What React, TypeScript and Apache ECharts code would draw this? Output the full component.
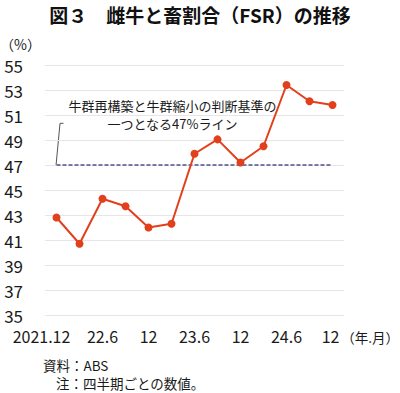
import React, { useEffect, useRef } from "react";
import * as echarts from "echarts";

const categories = ["2021.12", "3", "22.6", "9", "12", "3", "23.6", "9", "12", "3", "24.6", "9", "12"];
const fsrValues = [42.8, 40.7, 44.3, 43.7, 42.0, 42.3, 47.9, 49.05, 47.2, 48.5, 53.4, 52.1, 51.8];
const thresholdValues = [47, 47, 47, 47, 47, 47, 47, 47, 47, 47, 47, 47, 47];
const yTicks = { min: 35, max: 55, interval: 2 };

const titleText = "図３　雌牛と畜割合（FSR）の推移";
const annotationLines = ["牛群再構築と牛群縮小の判断基準の", "一つとなる47%ライン"];
const sourceText = "資料：ABS";
const noteText = "注：四半期ごとの数値。";

// per-label horizontal shift (layout only)
const labelShift = [-15, 0, 0, 0, 0, 0, -2];

const FONT = '"Noto Sans CJK JP", "Noto Sans", sans-serif';

export default function App() {
  const ref = useRef<HTMLDivElement>(null);
  useEffect(() => {
    if (!ref.current) return;
    const chart = echarts.init(ref.current, null, { renderer: "svg" });
    const rich: Record<string, any> = {};
    labelShift.forEach((s, i) => {
      rich["s" + i] = {
        fontSize: 16,
        color: "#1a1a1a",
        fontFamily: FONT,
        padding: [0, -2 * s, 0, 0],
      };
    });
    const textStyle = (size: number) => ({ fontSize: size, fill: "#1a1a1a", fontFamily: FONT, textVerticalAlign: "middle" });
    chart.setOption({
      animation: false,
      backgroundColor: "#ffffff",
      textStyle: { fontFamily: FONT },
      title: {
        text: titleText,
        left: "center",
        top: 0,
        textStyle: { fontSize: 19, fontWeight: "bold", color: "#111", fontFamily: FONT },
      },
      grid: { left: 45, right: 56, top: 65, bottom: 78, containLabel: false },
      xAxis: {
        type: "category",
        data: categories,
        boundaryGap: true,
        axisLine: { show: false },
        axisTick: { show: false },
        axisLabel: {
          interval: 1,
          margin: 13,
          formatter: (v: string, i: number) => `{s${Math.floor(i / 2)}|${v}}`,
          rich,
        },
      },
      yAxis: {
        type: "value",
        min: yTicks.min,
        max: yTicks.max,
        interval: yTicks.interval,
        axisLine: { show: false },
        axisTick: { show: false },
        axisLabel: { fontSize: 17, color: "#1a1a1a", margin: 22, fontFamily: FONT, lineHeight: 17 },
        splitLine: { lineStyle: { color: "#e6e6e6", width: 1 } },
      },
      series: [
        {
          type: "line",
          data: thresholdValues,
          symbol: "none",
          lineStyle: { color: "#50508f", width: 1.5, type: [4, 2] },
          z: 2,
        },
        {
          type: "line",
          data: fsrValues,
          symbol: "circle",
          symbolSize: 8,
          lineStyle: { color: "#e2401c", width: 2 },
          itemStyle: { color: "#e2401c" },
          z: 3,
        },
      ],
      graphic: [
        {
          type: "text",
          x: 0,
          y: 44,
          style: { ...textStyle(14), text: "（%）", lineHeight: 14 },
        },
        {
          type: "text",
          x: 399,
          y: 337,
          style: { ...textStyle(13.5), text: "（年.月）", textAlign: "right" },
        },
        {
          type: "polyline",
          shape: { points: [[56, 165.7], [60, 123.3], [63.5, 123.3]] },
          style: { stroke: "#555", lineWidth: 1, fill: "none" },
        },
        {
          type: "text",
          x: 172.5,
          y: 105.5,
          style: { ...textStyle(13), text: annotationLines[0], textAlign: "center", lineHeight: 14 },
        },
        {
          type: "text",
          x: 172.5,
          y: 123.5,
          style: { ...textStyle(13), text: annotationLines[1], textAlign: "center", lineHeight: 14 },
        },
        {
          type: "text",
          x: 43,
          y: 365,
          style: { ...textStyle(13.5), text: sourceText },
        },
        {
          type: "text",
          x: 56,
          y: 383,
          style: { ...textStyle(13.5), text: noteText },
        },
      ],
    });
    return () => chart.dispose();
  }, []);
  return <div ref={ref} style={{ width: 400, height: 393, position: "absolute", left: 0, top: 0 }} />;
}
